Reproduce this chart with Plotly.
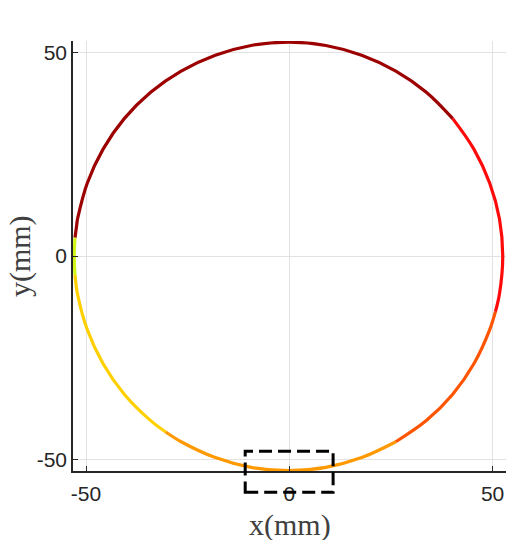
import plotly.graph_objects as go

# Trajectory points (mm), traversed counter-clockwise
x_mm = [-52.1, -52.7, -52.9, -52.7, -52.1, -49.7, -45.8, -40.6, -34.1, -30.4,
        -26.6, -18.2, -9.4, -0.2, 9.0, 17.8, 26.2, 33.7, 40.2, 45.4, 49.3,
        50.7, 51.7, 52.5, 51.7, 49.3, 45.4, 40.2, 33.7, 26.2, 17.8, 9.0,
        -0.2, -9.4, -18.2, -26.6, -34.1, -40.6, -45.8, -49.7, -52.1]
y_mm = [9.1, 4.5, -0.1, -4.7, -9.3, -18.1, -26.5, -34.0, -40.5, -43.3,
        -45.7, -49.6, -52.0, -52.8, -52.0, -49.6, -45.7, -40.5, -34.0, -26.5, -18.1,
        -13.7, -9.3, -0.1, 9.1, 17.9, 26.3, 33.8, 40.3, 45.5, 49.4, 51.8,
        52.6, 51.8, 49.4, 45.5, 40.3, 33.8, 26.3, 17.9, 9.1]
# colour band of the segment starting at each point
seg_color = ['#9c0000', '#d4f51a', '#d4f51a', '#ffd000', '#ffd000', '#ffd000', '#ffd000', '#ffd000', '#ffd000', '#ff9900',
             '#ff9900', '#ff9900', '#ff9900', '#ff9900', '#ff9900', '#ff9900', '#ff5500', '#ff5500', '#ff5500', '#ff5500', '#ff5500',
             '#ff0a0a', '#ff0a0a', '#ff0a0a', '#ff0a0a', '#ff0a0a', '#ff0a0a', '#9c0000', '#9c0000', '#9c0000', '#9c0000', '#9c0000',
             '#9c0000', '#9c0000', '#9c0000', '#9c0000', '#9c0000', '#9c0000', '#9c0000', '#9c0000']

x_ticks = [-50, 0, 50]
y_ticks = [-50, 0, 50]

fig = go.Figure()

# group consecutive segments of equal colour into smooth runs
runs = []
start = 0
for i in range(1, len(seg_color) + 1):
    if i == len(seg_color) or seg_color[i] != seg_color[start]:
        runs.append((start, i, seg_color[start]))
        start = i
for s, e, c in runs:
    fig.add_trace(go.Scatter(
        x=x_mm[s:e + 1], y=y_mm[s:e + 1], mode='lines',
        line=dict(color=c, width=3.2, shape='spline'),
        showlegend=False, hoverinfo='skip'))

axis_common = dict(
    showgrid=True, gridcolor='#e2e2e2', gridwidth=1,
    zeroline=False, showline=True, linecolor='#262626', linewidth=1.5,
    ticks='inside', ticklen=5, tickcolor='#262626', tickwidth=1,
    tickfont=dict(family='Liberation Sans, Arial', size=21, color='#262626'),
    mirror=False, automargin=False,
)

title_font = dict(family='Liberation Serif, Times New Roman', size=30, color='#404040')

fig.update_layout(
    width=520, height=540,
    margin=dict(l=73, r=14, t=41, b=69, autoexpand=False),
    paper_bgcolor='white', plot_bgcolor='white',
    xaxis=dict(range=[-53.2, 53.3], tickvals=x_ticks, ticktext=[str(v) for v in x_ticks],
               ticklabelstandoff=3, **axis_common),
    yaxis=dict(range=[-52.9, 52.9], tickvals=y_ticks, ticktext=[str(v) for v in y_ticks],
               ticklabelstandoff=0, **axis_common),
    annotations=[
        dict(text='x(mm)', xref='paper', yref='paper', x=0.5, y=-0.1264,
             xanchor='center', yanchor='middle', showarrow=False, font=title_font),
        dict(text='y(mm)', xref='paper', yref='paper', x=-0.1223, y=0.5,
             xanchor='center', yanchor='middle', showarrow=False, textangle=-90, font=title_font),
    ],
    shapes=[dict(type='rect', xref='x domain', yref='y domain',
                 x0=0.3977, x1=0.6007, y0=-0.0496, y1=0.0458,
                 line=dict(color='black', width=3, dash='13px,6px'),
                 fillcolor='rgba(0,0,0,0)', layer='above')],
)

fig.write_html('out.html', config={'displayModeBar': False},
               post_script="document.body.style.margin='0';document.body.style.overflow='hidden';")
